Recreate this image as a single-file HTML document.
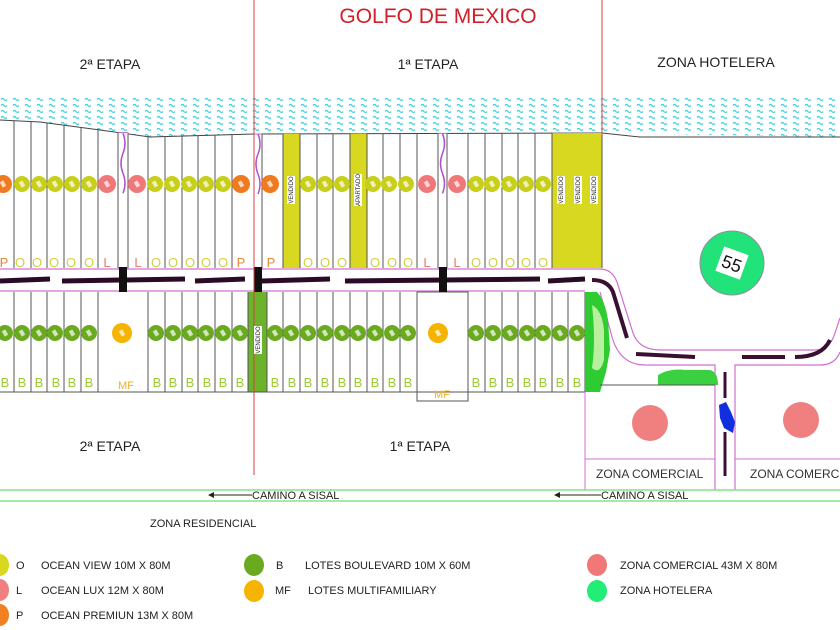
<!DOCTYPE html>
<html><head><meta charset="utf-8"><style>
html,body{margin:0;padding:0;background:#fff;}
svg{display:block;font-family:"Liberation Sans",sans-serif;}
</style></head><body>
<svg id="s" width="840" height="630" viewBox="0 0 840 630" xmlns="http://www.w3.org/2000/svg">
<defs>
<pattern id="wv" width="12" height="6" patternUnits="userSpaceOnUse">
<path d="M1,3.5 q1.5,-2 3,0 t3,0" fill="none" stroke="#3fd0dc" stroke-width="1.2"/>
</pattern>
</defs>
<rect width="840" height="630" fill="#fff"/>
<path d="M0,98 L840,98 L840,137 L602,133 L254,134 L150,137 L100,130 L40,122 L0,120 Z" fill="url(#wv)"/>
<path d="M0,120 L40,122 L100,130 L150,137 L254,134 L602,133 L640,137 L840,137" fill="none" stroke="#444" stroke-width="1"/>
<g id="g"></g>
<line x1="254" y1="0" x2="254" y2="475" stroke="#d04040" stroke-width="1"/>
<line x1="602" y1="0" x2="602" y2="135" stroke="#d04040" stroke-width="1"/>
<text x="438" y="23" font-size="21" fill="#d0202a" text-anchor="middle">GOLFO DE MEXICO</text>
<g font-size="14" fill="#222" text-anchor="middle">
<text x="110" y="69">2ª ETAPA</text>
<text x="428" y="69">1ª ETAPA</text>
<text x="716" y="67">ZONA HOTELERA</text>
<text x="110" y="451">2ª ETAPA</text>
<text x="420" y="451">1ª ETAPA</text>
</g>
<g font-size="13" text-anchor="middle">
<g fill="#e08a3a"><text x="4" y="267">P</text><text x="241" y="267">P</text><text x="271" y="267">P</text></g>
<g fill="#d0d040"><text x="20" y="267">O</text><text x="37" y="267">O</text><text x="54" y="267">O</text><text x="71" y="267">O</text><text x="89" y="267">O</text>
<text x="156" y="267">O</text><text x="173" y="267">O</text><text x="190" y="267">O</text><text x="206" y="267">O</text><text x="223" y="267">O</text>
<text x="308" y="267">O</text><text x="325" y="267">O</text><text x="342" y="267">O</text>
<text x="375" y="267">O</text><text x="392" y="267">O</text><text x="408" y="267">O</text>
<text x="476" y="267">O</text><text x="493" y="267">O</text><text x="510" y="267">O</text><text x="526" y="267">O</text><text x="543" y="267">O</text></g>
<g fill="#e0806a"><text x="107" y="267">L</text><text x="138" y="267">L</text><text x="427" y="267">L</text><text x="457" y="267">L</text></g>
<g fill="#9acd32"><text x="5" y="387">B</text><text x="22" y="387">B</text><text x="39" y="387">B</text><text x="56" y="387">B</text><text x="72" y="387">B</text><text x="89" y="387">B</text>
<text x="157" y="387">B</text><text x="173" y="387">B</text><text x="190" y="387">B</text><text x="207" y="387">B</text><text x="223" y="387">B</text><text x="240" y="387">B</text>
<text x="275" y="387">B</text><text x="292" y="387">B</text><text x="308" y="387">B</text><text x="325" y="387">B</text><text x="342" y="387">B</text><text x="358" y="387">B</text><text x="375" y="387">B</text><text x="392" y="387">B</text><text x="408" y="387">B</text>
<text x="476" y="387">B</text><text x="493" y="387">B</text><text x="510" y="387">B</text><text x="527" y="387">B</text><text x="543" y="387">B</text><text x="560" y="387">B</text><text x="577" y="387">B</text></g>
<g fill="#f0b020" font-size="11"><text x="126" y="389">MF</text><text x="442" y="398">MF</text></g>
</g>
<g font-size="6" fill="#222" text-anchor="middle">
<g transform="translate(291,190) rotate(-90)"><rect x="-14" y="-4" width="28" height="8" fill="#fff"/><text y="2">VENDIDO</text></g>
<g transform="translate(358,190) rotate(-90)"><rect x="-16" y="-4" width="32" height="8" fill="#fff"/><text y="2">APARTADO</text></g>
<g transform="translate(561,190) rotate(-90)"><rect x="-14" y="-4" width="28" height="8" fill="#fff"/><text y="2">VENDIDO</text></g>
<g transform="translate(578,190) rotate(-90)"><rect x="-14" y="-4" width="28" height="8" fill="#fff"/><text y="2">VENDIDO</text></g>
<g transform="translate(594,190) rotate(-90)"><rect x="-14" y="-4" width="28" height="8" fill="#fff"/><text y="2">VENDIDO</text></g>
<g transform="translate(258,340) rotate(-90)"><rect x="-14" y="-4" width="28" height="8" fill="#fff"/><text y="2">VENDIDO</text></g>
</g>
<circle cx="732" cy="263" r="32" fill="#22e27a" stroke="#9a8aa0" stroke-width="1"/>
<rect x="719" y="250" width="26" height="26" fill="#fff" transform="rotate(20 732 263)"/>
<text x="732" y="270" font-size="18" text-anchor="middle" fill="#111" transform="rotate(20 732 263)">55</text>
<circle cx="650" cy="423" r="18" fill="#f08080"/>
<circle cx="801" cy="420" r="18" fill="#f08080"/>
<g font-size="12" fill="#333">
<text x="596" y="478">ZONA COMERCIAL</text>
<text x="750" y="478">ZONA COMERCIAL</text>
</g>
<line x1="0" y1="490" x2="840" y2="490" stroke="#88e088" stroke-width="1.5"/>
<line x1="0" y1="501" x2="840" y2="501" stroke="#88e088" stroke-width="1.5"/>
<g font-size="11" fill="#222">
<line x1="210" y1="495" x2="252" y2="495" stroke="#222"/><path d="M208,495 l6,-3 v6z" fill="#222"/>
<text x="252" y="499">CAMINO A SISAL</text>
<line x1="556" y1="495" x2="601" y2="495" stroke="#222"/><path d="M554,495 l6,-3 v6z" fill="#222"/>
<text x="601" y="499">CAMINO A SISAL</text>
<text x="150" y="527">ZONA RESIDENCIAL</text>
</g>
<g font-size="11" fill="#222">
<ellipse cx="0" cy="565" rx="9" ry="11" fill="#d8d820"/><text x="16" y="569">O</text><text x="41" y="569">OCEAN VIEW 10M X 80M</text>
<ellipse cx="0" cy="590" rx="9" ry="11" fill="#f08080"/><text x="16" y="594">L</text><text x="41" y="594">OCEAN LUX  12M X 80M</text>
<ellipse cx="0" cy="615" rx="9" ry="11" fill="#f08020"/><text x="16" y="619">P</text><text x="41" y="619">OCEAN PREMIUN  13M X 80M</text>
<ellipse cx="254" cy="565" rx="10" ry="11" fill="#6aaa20"/><text x="276" y="569">B</text><text x="305" y="569">LOTES BOULEVARD 10M X 60M</text>
<ellipse cx="254" cy="591" rx="10" ry="11" fill="#f4b400"/><text x="275" y="594">MF</text><text x="308" y="594">LOTES MULTIFAMILIARY</text>
<ellipse cx="597" cy="565" rx="10" ry="11" fill="#f07878"/><text x="620" y="569">ZONA COMERCIAL 43M X 80M</text>
<ellipse cx="597" cy="591" rx="10" ry="11" fill="#22ee77"/><text x="620" y="594">ZONA HOTELERA</text>
</g>
</svg>
<script>
var g=document.getElementById('g'),NS='http://www.w3.org/2000/svg';
function el(t,a){var e=document.createElementNS(NS,t);for(var k in a)e.setAttribute(k,a[k]);g.appendChild(e);return e;}
function coast(x){var p=[[0,120],[40,122],[100,130],[150,137],[254,134],[602,133]];for(var i=0;i<p.length-1;i++){if(x<=p[i+1][0]){var t=(x-p[i][0])/(p[i+1][0]-p[i][0]);return p[i][1]+t*(p[i+1][1]-p[i][1]);}}return 133;}
[[283,300],[350,367],[552,602]].forEach(function(r){el('polygon',{points:r[0]+','+coast(r[0])+' '+r[1]+','+coast(r[1])+' '+r[1]+',268 '+r[0]+',268',fill:'#d8d820'});});
[[118,128],[254,262],[438,447]].forEach(function(r){el('rect',{x:r[0],y:coast(r[0]),width:r[1]-r[0],height:268-coast(r[0]),fill:'#fff',stroke:'#d070d0','stroke-width':1});
var m=(r[0]+r[1])/2,y0=coast(m);el('path',{d:'M'+m+','+y0+' q4,10 0,20 t0,20 t0,20',fill:'none',stroke:'#b050d0','stroke-width':1.5});});
[14,31,47,64,81,98,118,128,148,165,182,198,215,232,254,262,283,300,317,333,350,367,383,400,417,438,447,468,485,502,518,535,552,602].forEach(function(x){el('line',{x1:x,y1:coast(x),x2:x,y2:268,stroke:'#555','stroke-width':1});});
el('rect',{x:248,y:292,width:19,height:100,fill:'#6bb32a'});
el('rect',{x:417,y:292,width:51,height:109,fill:'#fff',stroke:'#555','stroke-width':1});
[14,31,47,64,81,98,148,165,182,198,215,232,248,267,283,300,317,333,350,367,383,400,417,468,485,502,518,535,552,568,585].forEach(function(x){el('line',{x1:x,y1:292,x2:x,y2:392,stroke:'#555','stroke-width':1});});
el('line',{x1:0,y1:392,x2:585,y2:392,stroke:'#555','stroke-width':1});
el('line',{x1:0,y1:269,x2:590,y2:269,stroke:'#d070d0','stroke-width':1.2});
el('line',{x1:0,y1:291,x2:585,y2:291,stroke:'#d070d0','stroke-width':1.2});
[[0,50],[62,185],[195,245],[262,330],[345,540],[548,585]].forEach(function(s){el('path',{d:'M'+s[0]+',281 L'+s[1]+',279',stroke:'#2a0a25','stroke-width':5,fill:'none'});});
[123,258,443].forEach(function(x){el('rect',{x:x-4,y:267,width:8,height:25,fill:'#111'});});
el('path',{d:'M590,269 L600,269 Q612,269 617,282 L633,333 Q639,350 660,350 L815,350 Q830,350 835,333 L840,318',fill:'none',stroke:'#d070d0','stroke-width':1.2});
el('path',{d:'M600,292 L612,337 Q620,365 645,365 L715,365 L715,490 M735,490 L735,365 L820,365 Q835,365 840,352',fill:'none',stroke:'#d070d0','stroke-width':1.2});
el('path',{d:'M592,280 Q608,280 613,292 L627,338 M636,354 L695,357 M742,357 L785,357 M795,357 Q822,357 830,340',fill:'none',stroke:'#3a1030','stroke-width':4});
el('path',{d:'M725,372 V398 M725,432 V476',fill:'none',stroke:'#3a1030','stroke-width':3});
el('path',{d:'M719,405 L726,402 L731,412 L735,422 L733,433 L724,428 L720,418 Z',fill:'#1030e0'});
el('path',{d:'M585,292 L597,292 Q605,300 608,320 L610,350 L606,372 L600,392 L585,392 Z',fill:'#2ecc30'});
el('path',{d:'M592,305 Q602,310 604,330 L604,360 Q600,375 592,368 Q596,340 592,305Z',fill:'#b8f0a0'});
el('path',{d:'M658,375 Q670,368 685,370 L710,370 Q718,372 718,385 L658,385 Z',fill:'#3ad040'});
el('line',{x1:600,y1:385,x2:715,y2:385,stroke:'#555','stroke-width':1});
el('path',{d:'M585,392 V490 M585,459 H715 M715,392 V490 M735,459 H840',fill:'none',stroke:'#d070d0','stroke-width':1});
function circ(x,y,r,c){el('circle',{cx:x,cy:y,r:r,fill:c});el('rect',{x:x-3,y:y-2,width:6,height:4,fill:'#fff',opacity:0.7,transform:'rotate(60 '+x+' '+y+')'});}
var Y='#c8cf1a',S='#f07878',O='#f07a20',G='#6aaa20';
[[3,O],[22,Y],[39,Y],[55,Y],[72,Y],[89,Y],[107,S],[137,S],[155,Y],[172,Y],[189,Y],[206,Y],[223,Y],[241,O],[270,O],[308,Y],[325,Y],[342,Y],[373,Y],[389,Y],[406,Y],[427,S],[457,S],[476,Y],[492,Y],[509,Y],[526,Y],[543,Y]].forEach(function(c){circ(c[0],184,c[1]==S||c[1]==O?9:8,c[1]);});
[5,22,39,55,72,89,156,173,190,206,223,240,275,291,308,325,342,358,375,392,408,476,493,510,527,543,560,577].forEach(function(x){circ(x,333,8,G);});
circ(122,333,10,'#f4b400');circ(438,333,10,'#f4b400');
</script>
</body></html>
